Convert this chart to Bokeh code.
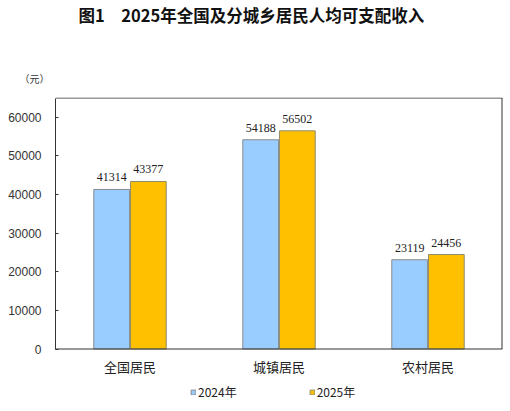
from bokeh.plotting import figure
from bokeh.models import ColumnDataSource, Legend, LegendItem, FixedTicker, Title
from bokeh.transform import dodge
from bokeh.embed import file_html
from bokeh.resources import INLINE

# data
groups = ["全国居民", "城镇居民", "农村居民"]
income_2024 = [41314, 54188, 23119]
income_2025 = [43377, 56502, 24456]
y_ticks = [0, 10000, 20000, 30000, 40000, 50000, 60000]
y_top = 65000

source = ColumnDataSource(data=dict(
    groups=groups,
    y2024=income_2024,
    y2025=income_2025,
    t2024=[str(v) for v in income_2024],
    t2025=[str(v) for v in income_2025],
    zero=[0] * len(groups),
))

# the frame runs down to the bottom of the page so that the category
# labels and the legend can sit under the value axis
p = figure(x_range=groups, y_range=(-15408, 65130), frame_width=447, frame_height=311,
           output_backend="svg", toolbar_location=None, title=None,
           min_border_left=55, min_border_right=5, min_border_top=0, min_border_bottom=0)

b1 = p.vbar(x=dodge("groups", -0.123, range=p.x_range), top="y2024", width=0.24,
            source=source, fill_color="#99CCFF", line_color="#8c8c8c", line_width=1)
b2 = p.vbar(x=dodge("groups", 0.123, range=p.x_range), top="y2025", width=0.24,
            source=source, fill_color="#FFC000", line_color="#8c8c6c", line_width=1)

# value labels above bars
p.text(x=dodge("groups", -0.123, range=p.x_range), y="y2024", text="t2024", source=source,
       text_align="center", text_baseline="bottom", y_offset=-8,
       text_font={"value": "Liberation Serif"}, text_font_size="12px", text_color="#222222")
p.text(x=dodge("groups", 0.123, range=p.x_range), y="y2025", text="t2025", source=source,
       text_align="center", text_baseline="bottom", y_offset=-8,
       text_font={"value": "Liberation Serif"}, text_font_size="12px", text_color="#222222")

# category labels under the box
p.text(x="groups", y="zero", text="groups", source=source,
       text_align="center", text_baseline="middle", y_offset=17,
       text_font={"value": "Noto Sans CJK SC"}, text_font_size="13px", text_color="#222222")

# box around the plot area (left side is the y axis)
n = len(groups)
p.segment(x0=[0, 0, n], y0=[0, y_top, 0], x1=[n, n, n], y1=[0, y_top, y_top],
          line_color="#333333", line_width=[1, 1, 2])

p.xgrid.visible = False
p.ygrid.visible = False
p.outline_line_color = None
p.xaxis.visible = False

p.yaxis.bounds = (0, y_top)
p.yaxis.ticker = FixedTicker(ticks=y_ticks)
p.yaxis.major_tick_in = 3
p.yaxis.major_tick_out = 0
p.yaxis.minor_tick_line_color = None
p.yaxis.axis_line_color = "#333333"
p.yaxis.major_tick_line_color = "#333333"
p.yaxis.major_label_standoff = 14
p.yaxis.major_label_text_font = "Liberation Sans"
p.yaxis.major_label_text_font_size = "12px"
p.yaxis.major_label_text_color = "#333333"

legend = Legend(items=[LegendItem(label="2024年", renderers=[b1]),
                       LegendItem(label="2025年", renderers=[b2])],
                orientation="horizontal", location=(135, 8),
                glyph_width=6, glyph_height=6, label_standoff=2, spacing=72,
                label_text_font="Noto Sans CJK SC", label_text_font_size="12px",
                label_text_color="#222222", border_line_color=None,
                background_fill_alpha=0, padding=2, margin=0)
p.add_layout(legend)

# unit and chart title above the frame
unit = Title(text="\n\n（元）", align="left", offset=-36, standoff=24,
             text_font="Noto Sans CJK SC", text_font_size="10px",
             text_font_style="normal", text_color="#333333")
p.add_layout(unit, "above")
head = Title(text="图1　2025年全国及分城乡居民人均可支配收入", align="left", offset=23, standoff=0,
             text_font="Noto Sans CJK SC", text_font_size="16.5px",
             text_font_style="bold", text_color="#111111")
p.add_layout(head, "above")

open("out.html", "w").write(file_html(p, INLINE))
